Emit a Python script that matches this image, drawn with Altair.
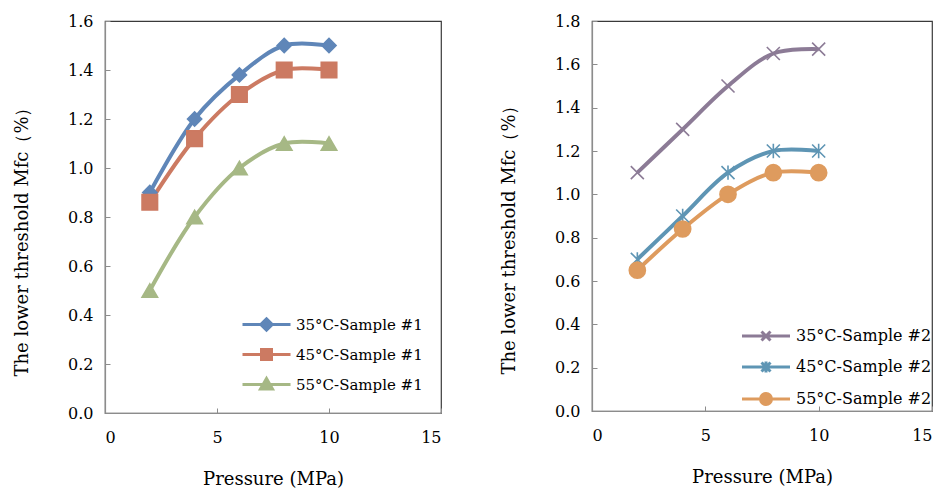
import altair as alt
import pandas as pd

pressure = [2, 4, 6, 8, 10]

names1 = ["35°C-Sample #1", "45°C-Sample #1", "55°C-Sample #1"]
vals1 = [
    [0.90, 1.20, 1.38, 1.50, 1.50],
    [0.86, 1.12, 1.30, 1.40, 1.40],
    [0.50, 0.80, 1.00, 1.10, 1.10],
]
names2 = ["35°C-Sample #2", "45°C-Sample #2", "55°C-Sample #2"]
vals2 = [
    [1.10, 1.30, 1.50, 1.65, 1.67],
    [0.70, 0.90, 1.10, 1.20, 1.20],
    [0.65, 0.84, 1.00, 1.10, 1.10],
]

colors1 = ["#5F86B8", "#CC7A62", "#A6B885"]
colors2 = ["#8C7B96", "#5E95B4", "#DE9B5E"]

marks1 = ["diamond", "square", "triangle-up"]
marks2 = ["M-1,-1L1,1M-1,1L1,-1", "M-1,-1L1,1M-1,1L1,-1M0,-1.1L0,1.1", "circle"]
sizes1 = [200, 240, 240]
sizes2 = [170, 170, 260]

LINE = "M-4.8,0H4.8"
leg1 = [
    LINE + "M0,-1.15L1.15,0L0,1.15L-1.15,0Z",
    LINE + "M-1,-1H1V1H-1Z",
    LINE + "M0,-1.2L1.2,0.9H-1.2Z",
]
leg2 = [
    LINE + "M-0.9,-0.9L0.9,0.9M-0.9,0.9L0.9,-0.9",
    LINE + "M-0.9,-0.9L0.9,0.9M-0.9,0.9L0.9,-0.9M0,-1.1V1.1",
    LINE + "M1.1,0A1.1,1.1,0,1,1,-1.1,0A1.1,1.1,0,1,1,1.1,0Z",
]

FONT = "DejaVu Serif"
YTITLE = "The lower threshold Mfc（%）"


def panel(names, vals, colors, marks, sizes, legpaths, ymax, w, h, lab_fs, row_pad, leg_off,
          title_shift):
    rows = []
    for n, vs, mk, sz in zip(names, vals, marks, sizes):
        for p, v in zip(pressure, vs):
            rows.append({"s": n, "p": p, "v": v, "mk": mk, "sz": sz})
    df = pd.DataFrame(rows)
    base = alt.Chart(df)
    cscale = alt.Scale(domain=names, range=colors)
    xs = alt.Scale(domain=[0, 15], nice=False)
    ys = alt.Scale(domain=[0, ymax], nice=False)
    yvals = [round(i * 0.2, 1) for i in range(int(round(ymax / 0.2)) + 1)]
    xvals = [0, 5, 10, 15]

    x_main = alt.X("p:Q", scale=xs, axis=alt.Axis(values=xvals, ticks=False, format="d",
                                                  title="Pressure (MPa)", labelPadding=16,
                                                  titlePadding=25))
    y_main = alt.Y("v:Q", scale=ys, axis=alt.Axis(values=yvals, ticks=False, format=".1f",
                                                  title=YTITLE, labelPadding=12,
                                                  titlePadding=36, titleY=h / 2 + title_shift))
    x_in = alt.X("p:Q", scale=xs, axis=alt.Axis(orient="top", offset=-h, values=xvals,
                                                labels=False, title=None, domain=False,
                                                ticks=True, tickSize=5))
    y_in = alt.Y("v:Q", scale=ys, axis=alt.Axis(orient="right", offset=-w, values=yvals,
                                                labels=False, title=None, domain=False,
                                                ticks=True, tickSize=5))
    leg = alt.Legend(title=None, orient="bottom-right", symbolSize=100, symbolStrokeWidth=3,
                     symbolOpacity=1, labelFont=FONT, labelFontSize=lab_fs, labelColor="#000",
                     labelOffset=22, rowPadding=row_pad, offset=leg_off, padding=0)

    lines = base.mark_line(interpolate="catmull-rom", strokeWidth=4).encode(
        x=x_main, y=y_main,
        stroke=alt.Stroke("s:N", scale=cscale, legend=leg),
    )
    pts = base.mark_point(filled=True, opacity=1, strokeWidth=1.6).encode(
        x=x_in, y=y_in,
        fill=alt.Fill("s:N", scale=cscale, legend=leg),
        stroke=alt.Stroke("s:N", scale=cscale, legend=leg),
        shape=alt.Shape("mk:N", scale=None),
        size=alt.Size("sz:Q", scale=None),
    )
    legl = base.mark_point(filled=True, opacity=0, strokeWidth=3).encode(
        x=alt.X("p:Q", scale=xs, axis=None), y=alt.Y("v:Q", scale=ys, axis=None),
        fill=alt.Fill("s:N", scale=cscale, legend=leg),
        stroke=alt.Stroke("s:N", scale=cscale, legend=leg),
        shape=alt.Shape("s:N", scale=alt.Scale(domain=names, range=legpaths), legend=leg),
    )
    return alt.layer(lines, pts, legl).resolve_axis(x="independent", y="independent").properties(
        width=w, height=h)


left = panel(names1, vals1, colors1, marks1, sizes1, leg1, 1.6, 336, 392, 15, 6, 18, 20)
right = panel(names2, vals2, colors2, marks2, sizes2, leg2, 1.8, 340, 390, 16, 8, 0, 19)

chart = alt.hconcat(left, right, spacing=56).resolve_scale(
    fill="independent", stroke="independent", shape="independent"
).configure_view(stroke="#3a3a3a", strokeWidth=1.2).configure_axis(
    labelFont=FONT, labelFontSize=16, labelColor="#000", titleFont=FONT, titleFontSize=18,
    titleFontWeight="normal", titleColor="#000", domainColor="#8c8c8c", tickColor="#8c8c8c",
    domainWidth=1.2, grid=False
).properties(padding={"left": 4, "top": 4, "right": 0, "bottom": 0})

chart.save("out.html", embed_options={"renderer": "svg", "actions": False})
